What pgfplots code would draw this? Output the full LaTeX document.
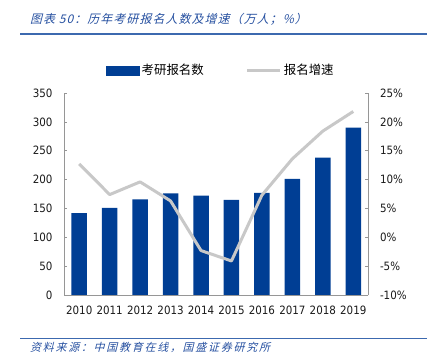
\documentclass[border=0pt]{standalone}
\usepackage{pgfplots}
\pgfplotsset{compat=1.18}
\usepackage{fontspec}
\setmainfont{DejaVu Sans Condensed}
\newfontfamily\cjk{Noto Sans CJK SC}
\newfontfamily\cjkit[FakeSlant=0.25,LetterSpace=16]{Noto Sans CJK SC}
\newfontfamily\cjktitle[FakeSlant=0.25,LetterSpace=9]{Noto Sans CJK SC}
\definecolor{barblue}{RGB}{0,62,148}
\definecolor{linegrey}{RGB}{200,200,200}
\definecolor{titleblue}{RGB}{38,80,160}
\definecolor{ruleblue}{RGB}{60,105,175}
\definecolor{axgrey}{RGB}{150,150,150}
\pgfplotstableread{
x year num growth
0 2010 142 12.7
1 2011 151 7.4
2 2012 165.6 9.6
3 2013 176 6.3
4 2014 172 -2.3
5 2015 164.9 -4.1
6 2016 177 7.3
7 2017 201 13.6
8 2018 238 18.4
9 2019 290 21.8
}\datatable
\begin{document}
\begin{tikzpicture}[x=1bp,y=1bp]
\path[use as bounding box] (0,0) rectangle (427,359);
\node[anchor=west, inner sep=0, text=titleblue, font=\cjktitle\fontsize{12}{14}\selectfont] at (30,340) {图表 50：历年考研报名人数及增速（万人；\%）};
\draw[ruleblue, line width=2bp] (20,324.5) -- (427,324.5);
\draw[ruleblue, line width=0.8bp] (20,21) -- (427,21);
\node[anchor=west, inner sep=0, text=titleblue, font=\cjkit\fontsize{11}{13}\selectfont] at (30,11.5) {资料来源：中国教育在线，国盛证券研究所};
\begin{axis}[
  at={(64bp,64bp)}, anchor=south west,
  scale only axis, width=304.5bp, height=202bp,
  xmin=-0.5, xmax=9.5, ymin=0, ymax=350,
  ytick={0,50,...,350},
  xtick={0,...,9}, xticklabels={2010,2011,2012,2013,2014,2015,2016,2017,2018,2019},
  major x tick style={draw=none},
  extra x ticks={0.5,1.5,...,8.5}, extra x tick labels={},
  extra x tick style={tick style={draw=axgrey}, major tick length=3bp},
  axis x line*=bottom, axis y line*=left,
  axis line style={draw=axgrey, line width=0.6bp},
  tick style={draw=axgrey, line width=0.6bp},
  major tick length=3bp,
  tick align=inside,
  ticklabel style={font=\fontsize{11.5}{12}\selectfont, text=black!90},
  /pgf/number format/assume math mode=true,
  xticklabel style={yshift=-7bp},
  yticklabel style={xshift=-8bp},
  clip=false,
]
\addplot[ybar, bar width=15.5bp, fill=barblue, draw=none] table[x=x, y=num] {\datatable};
\end{axis}
\begin{axis}[
  at={(64bp,64bp)}, anchor=south west,
  scale only axis, width=304.5bp, height=202bp,
  xmin=-0.5, xmax=9.5, ymin=-10, ymax=25,
  ytick={-10,-5,...,25},
  yticklabel={\pgfmathprintnumber{\tick}\%},
  axis x line=none, axis y line*=right,
  axis line style={draw=axgrey, line width=0.6bp},
  tick style={draw=axgrey, line width=0.6bp},
  major tick length=3bp, tick align=inside,
  ticklabel style={font=\fontsize{11.5}{12}\selectfont, text=black!90},
  /pgf/number format/assume math mode=true,
  yticklabel style={xshift=8bp},
  legend columns=2,
  legend style={at={(0.138,1.112)}, anchor=west, draw=none, fill=none,
    font=\cjk\fontsize{12.5}{14}\selectfont, inner sep=0pt,
    /tikz/every even column/.append style={column sep=40bp}},
  clip=false,
]
\addlegendimage{legend image code/.code={\fill[barblue] (0bp,-4.5bp) rectangle (33bp,4.5bp);}}
\addlegendentry{考研报名数}
\addplot[linegrey, line width=3bp, line join=round, legend image code/.code={\draw[linegrey, line width=3bp] (0bp,0bp) -- (33bp,0bp);}] table[x=x, y=growth] {\datatable};
\addlegendentry{报名增速}
\end{axis}
\end{tikzpicture}
\end{document}
